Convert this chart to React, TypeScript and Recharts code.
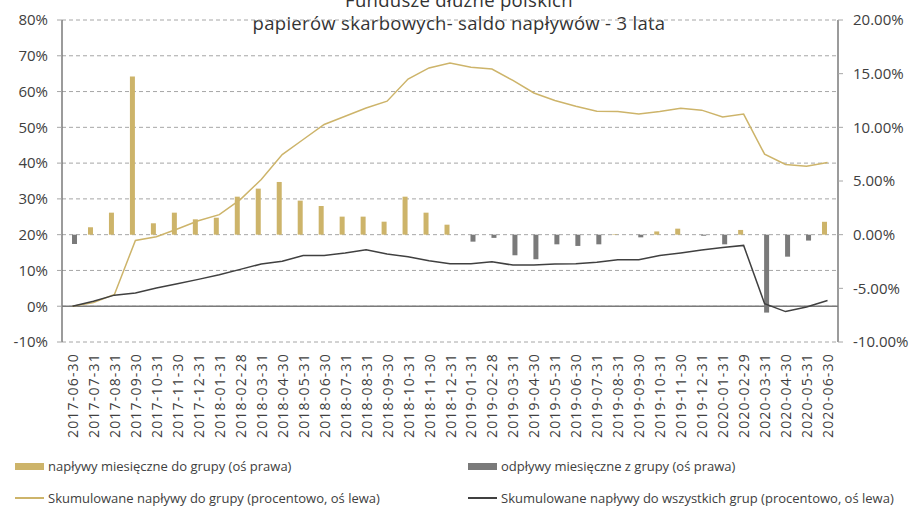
import React from 'react';
import {
	ComposedChart,
	Bar,
	Line,
	XAxis,
	YAxis,
	CartesianGrid,
	ReferenceLine,
} from 'recharts';

const dates = [
	'2017-06-30', '2017-07-31', '2017-08-31', '2017-09-30', '2017-10-31', '2017-11-30',
	'2017-12-31', '2018-01-31', '2018-02-28', '2018-03-31', '2018-04-30', '2018-05-31',
	'2018-06-30', '2018-07-31', '2018-08-31', '2018-09-30', '2018-10-31', '2018-11-30',
	'2018-12-31', '2019-01-31', '2019-02-28', '2019-03-31', '2019-04-30', '2019-05-31',
	'2019-06-30', '2019-07-31', '2019-08-31', '2019-09-30', '2019-10-31', '2019-11-30',
	'2019-12-31', '2020-01-31', '2020-02-29', '2020-03-31', '2020-04-30', '2020-05-31',
	'2020-06-30',
];

// monthly flows, % (right axis)
const inflows = [
	null, 0.69, 2.05, 14.74, 1.06, 2.05, 1.43, 1.58, 3.54, 4.29, 4.91, 3.17,
	2.67, 1.68, 1.68, 1.21, 3.54, 2.05, 0.93, null, null, null, null, null,
	null, null, 0.05, null, 0.3, 0.56, null, null, 0.44, null, null, null,
	1.2,
];
const outflows = [
	-0.87, null, null, null, null, null, null, null, null, null, null, null,
	null, null, null, null, null, null, null, -0.65, -0.3, -1.92, -2.29, -0.9,
	-1.05, -0.9, null, -0.25, null, null, -0.1, -0.9, null, -7.26, -2.05, -0.55,
	null,
];

// cumulative flows, % (left axis)
const cumGroup = [
	0, 1.0, 3.3, 18.4, 19.4, 21.6, 23.9, 25.6, 29.8, 35.4, 42.4, 46.6,
	50.8, 53.1, 55.4, 57.3, 63.5, 66.6, 68.0, 66.8, 66.3, 63.1, 59.6, 57.5,
	55.9, 54.5, 54.4, 53.7, 54.4, 55.3, 54.8, 52.9, 53.7, 42.5, 39.6, 39.1,
	40.2,
];
const cumAll = [
	0, 1.4, 3.1, 3.7, 5.1, 6.3, 7.5, 8.8, 10.3, 11.8, 12.6, 14.2,
	14.2, 14.9, 15.8, 14.6, 13.8, 12.7, 11.9, 11.9, 12.4, 11.5, 11.5, 11.8,
	11.9, 12.3, 13.0, 13.0, 14.2, 14.9, 15.7, 16.4, 17.0, 0.7, -1.5, -0.2,
	1.6,
];

const leftTicks = [-10, 0, 10, 20, 30, 40, 50, 60, 70, 80];
const rightTicks = [-10, -5, 0, 5, 10, 15, 20];

const data = dates.map((d, i) => ({
	date: d,
	inflow: inflows[i],
	outflow: outflows[i],
	cumGroup: cumGroup[i],
	cumAll: cumAll[i],
}));

const GOLD = '#CDB46A';
const GRAY = '#7A7A7A';
const DARK = '#404040';
const FONT = '"Open Sans", sans-serif';

const DateTick = ({ x, y, payload }: any) => (
	<text
		x={x}
		y={y + 11}
		transform={`rotate(-90, ${x}, ${y + 11})`}
		textAnchor='end'
		dominantBaseline='central'
		fontSize={14}
		letterSpacing={1.2}
		fill={DARK}
		fontFamily={FONT}
	>
		{payload.value}
	</text>
);

const LegendItem = ({ left, top, color, line, label }: any) => (
	<div
		style={{
			position: 'absolute',
			left,
			top,
			display: 'flex',
			alignItems: 'center',
			fontSize: 13,
			color: DARK,
			whiteSpace: 'nowrap',
		}}
	>
		<span
			style={{
				display: 'inline-block',
				width: 29,
				height: line ? 1.5 : 7,
				background: color,
				marginRight: 4,
			}}
		/>
		{label}
	</div>
);

export default function App() {
	return (
		<div
			style={{
				position: 'absolute',
				left: 0,
				top: 0,
				width: 912,
				height: 509,
				overflow: 'hidden',
				background: '#fff',
				fontFamily: FONT,
			}}
		>
			<div
				style={{
					position: 'absolute',
					left: 0,
					width: 918,
					top: -12,
					textAlign: 'center',
					fontSize: 18.5,
					letterSpacing: 0.3,
					lineHeight: '23px',
					color: '#333',
				}}
			>
				Fundusze dłużne polskich
				<br />
				papierów skarbowych- saldo napływów - 3 lata
			</div>
			<ComposedChart
				width={912}
				height={509}
				data={data}
				margin={{ top: 20, right: 0, bottom: 67, left: 0 }}
				barSize={5}
				barGap={0}
				style={{ position: 'absolute', left: 0, top: 0 }}
			>
				<CartesianGrid
					yAxisId='left'
					vertical={false}
					stroke='#A6A6A6'
					strokeDasharray='4 3'
					horizontalValues={leftTicks}
				/>
				<XAxis
					dataKey='date'
					interval={0}
					axisLine={false}
					tickLine={false}
					tickSize={0}
					tickMargin={0}
					height={100}
					tick={<DateTick />}
				/>
				<YAxis
					yAxisId='left'
					domain={[-10, 80]}
					ticks={leftTicks}
					tickFormatter={(v: number) => `${v}%`}
					axisLine={{ stroke: GRAY, strokeWidth: 1.5 }}
					tickLine={{ stroke: '#A6A6A6' }}
					tickSize={5}
					tickMargin={9}
					width={62}
					tick={{ fontSize: 15, fill: DARK, fontFamily: FONT }}
				/>
				<YAxis
					yAxisId='right'
					orientation='right'
					domain={[-10, 20]}
					ticks={rightTicks}
					tickFormatter={(v: number) => `${v.toFixed(2)}%`}
					axisLine={{ stroke: GRAY, strokeWidth: 1.5 }}
					tickLine={{ stroke: '#A6A6A6' }}
					tickSize={5}
					tickMargin={10}
					width={74}
					tick={{ fontSize: 15, fill: DARK, fontFamily: FONT, textAnchor: 'start' }}
				/>
				<Bar yAxisId='right' dataKey='inflow' fill={GOLD} isAnimationActive={false} />
				<Bar yAxisId='right' dataKey='outflow' fill={GRAY} isAnimationActive={false} />
				<ReferenceLine yAxisId='left' y={0} stroke={GRAY} strokeWidth={1.5} />
				<Line
					yAxisId='left'
					dataKey='cumGroup'
					stroke={GOLD}
					strokeWidth={1.5}
					dot={false}
					isAnimationActive={false}
				/>
				<Line
					yAxisId='left'
					dataKey='cumAll'
					stroke={DARK}
					strokeWidth={1.5}
					dot={false}
					isAnimationActive={false}
				/>
			</ComposedChart>
			<LegendItem left={15} top={457} color={GOLD} label='napływy miesięczne do grupy (oś prawa)' />
			<LegendItem left={468} top={457} color={GRAY} label='odpływy miesięczne z grupy (oś prawa)' />
			<LegendItem left={15} top={489} color={GOLD} line label='Skumulowane napływy do grupy (procentowo, oś lewa)' />
			<LegendItem left={468} top={489} color={DARK} line label='Skumulowane napływy do wszystkich grup (procentowo, oś lewa)' />
		</div>
	);
}
